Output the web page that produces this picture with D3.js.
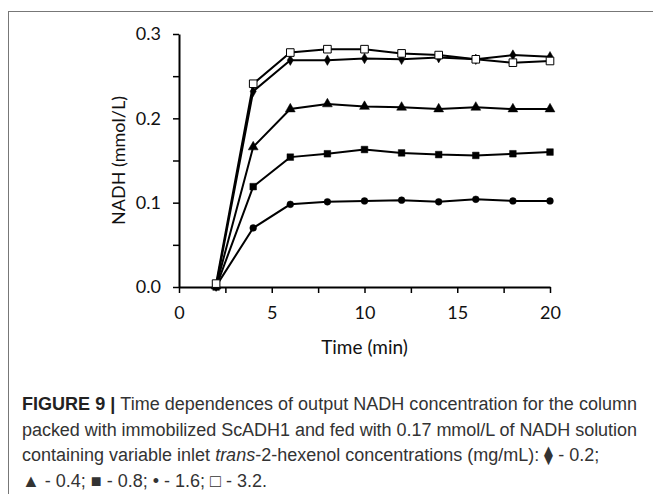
<!DOCTYPE html>
<html>
<head>
<meta charset="utf-8">
<script src="https://cdn.jsdelivr.net/npm/d3@7.9.0/dist/d3.min.js"></script>
<style>
  body { margin: 0; background: #fff; }
  svg { display: block; }
  .tick text { font-family: Lato, "Open Sans", sans-serif; font-size: 18px; fill: #111; }
  .caption { font-family: "Liberation Sans", Arial, sans-serif; font-size: 18px; fill: #333; }
</style>
</head>
<body>
<svg id="chart" width="653" height="494"></svg>
<script>
// sampling times (min)
const times = [2, 4, 6, 8, 10, 12, 14, 16, 18, 20];

// NADH output (mmol/L), one array per inlet trans-2-hexenol concentration
const conc02 = [0.001, 0.232, 0.269, 0.269, 0.271, 0.270, 0.272, 0.270, 0.275, 0.273]; // diamond
const conc04 = [0.001, 0.166, 0.211, 0.217, 0.214, 0.213, 0.211, 0.213, 0.211, 0.211]; // triangle
const conc08 = [0.000, 0.119, 0.154, 0.158, 0.163, 0.159, 0.157, 0.156, 0.158, 0.160]; // filled square
const conc16 = [0.001, 0.070, 0.098, 0.101, 0.102, 0.103, 0.101, 0.104, 0.102, 0.102]; // circle
const conc32 = [0.004, 0.241, 0.278, 0.282, 0.282, 0.277, 0.275, 0.270, 0.266, 0.268]; // open square

const xTicks = [0, 5, 10, 15, 20];
const yTicks = [0, 0.1, 0.2, 0.3];

const series = [
  { values: conc16, marker: 'circle' },
  { values: conc08, marker: 'square' },
  { values: conc04, marker: 'triangle' },
  { values: conc02, marker: 'diamond' },
  { values: conc32, marker: 'open' }
];

const svg = d3.select('#chart');

// outer frame of the figure panel
svg.append('rect')
  .attr('x', 8.5).attr('y', 11.5)
  .attr('width', 700).attr('height', 600)
  .attr('fill', 'none').attr('stroke', '#777').attr('stroke-width', 1);

const x = d3.scaleLinear().domain([0, 20]).range([179, 550]);
const y = d3.scaleLinear().domain([0, 0.3]).range([287, 34]);

// axes: labels on major values, ticks every half step
const xAxis = svg.append('g').attr('transform', `translate(0,${y(0)})`)
  .call(d3.axisBottom(x).tickValues(d3.range(0, 20.01, 2.5))
    .tickFormat(d => xTicks.includes(d) ? d : '')
    .tickSizeInner(6).tickSizeOuter(0).tickPadding(17));
const yAxis = svg.append('g').attr('transform', `translate(${x(0)},0)`)
  .call(d3.axisLeft(y).tickValues(d3.range(0, 0.301, 0.05))
    .tickFormat(d => yTicks.some(t => Math.abs(t - d) < 1e-9) ? d3.format('.1f')(d) : '')
    .tickSizeInner(6).tickSizeOuter(0).tickPadding(12));

[xAxis, yAxis].forEach(g => {
  g.select('.domain').attr('stroke', '#000').attr('stroke-width', 2);
  g.selectAll('.tick line').attr('stroke', '#000').attr('stroke-width', 1.5);
});
xAxis.selectAll('.tick text').attr('dy', '0.5em');

svg.append('text')
  .attr('x', (x(0) + x(20)) / 2).attr('y', 354)
  .attr('text-anchor', 'middle')
  .style('font-family', 'Lato, "Open Sans", sans-serif').style('font-size', '19px').attr('fill', '#111')
  .text('Time (min)');

svg.append('text')
  .attr('transform', `translate(125,${(y(0) + y(0.3)) / 2}) rotate(-90)`)
  .attr('text-anchor', 'middle')
  .style('font-family', 'Lato, "Open Sans", sans-serif').style('font-size', '18px').attr('fill', '#111')
  .text('NADH (mmol/L)');

// lines and markers
const line = d3.line().x((d, i) => x(times[i])).y(d => y(d));

series.forEach(s => {
  svg.append('path')
    .attr('d', line(s.values))
    .attr('fill', 'none').attr('stroke', '#000').attr('stroke-width', 2);
});

const symbolFor = {
  circle: d3.symbol(d3.symbolCircle, 36),
  square: d3.symbol(d3.symbolSquare, 44),
  triangle: d3.symbol(d3.symbolTriangle, 42),
  diamond: d3.symbol(d3.symbolDiamond, 32),
  open: d3.symbol(d3.symbolSquare, 58)
};

series.forEach(s => {
  svg.append('g').selectAll('path')
    .data(s.values)
    .join('path')
    .attr('transform', (d, i) => `translate(${x(times[i])},${y(d)})`)
    .attr('d', symbolFor[s.marker]())
    .attr('fill', s.marker === 'open' ? '#fff' : '#000')
    .attr('stroke', '#000')
    .attr('stroke-width', s.marker === 'open' ? 1 : 0.5);
});

// caption, one text element per line
const lines = [
  [{ t: 'FIGURE 9 | ', b: true }, { t: 'Time dependences of output NADH concentration for the column' }],
  [{ t: 'packed with immobilized ScADH1 and fed with 0.17 mmol/L of NADH solution' }],
  [{ t: 'containing variable inlet ' }, { t: 'trans', i: true }, { t: '-2-hexenol concentrations (mg/mL): \u29EB - 0.2;' }],
  [{ t: '\u25B2 - 0.4; \u25A0 - 0.8; \u2022 - 1.6; \u25A1 - 3.2.' }]
];
const lineLen = [615, 615, null, null];
lines.forEach((parts, li) => {
  const txt = svg.append('text').attr('class', 'caption')
    .attr('x', 22).attr('y', 410 + li * 25.5);
  if (lineLen[li]) txt.attr('textLength', lineLen[li]).attr('lengthAdjust', 'spacing');
  parts.forEach(p => {
    const ts = txt.append('tspan').text(p.t);
    if (p.b) ts.attr('font-weight', 'bold').attr('fill', '#222');
    if (p.i) ts.attr('font-style', 'italic');
  });
});
</script>
</body>
</html>
